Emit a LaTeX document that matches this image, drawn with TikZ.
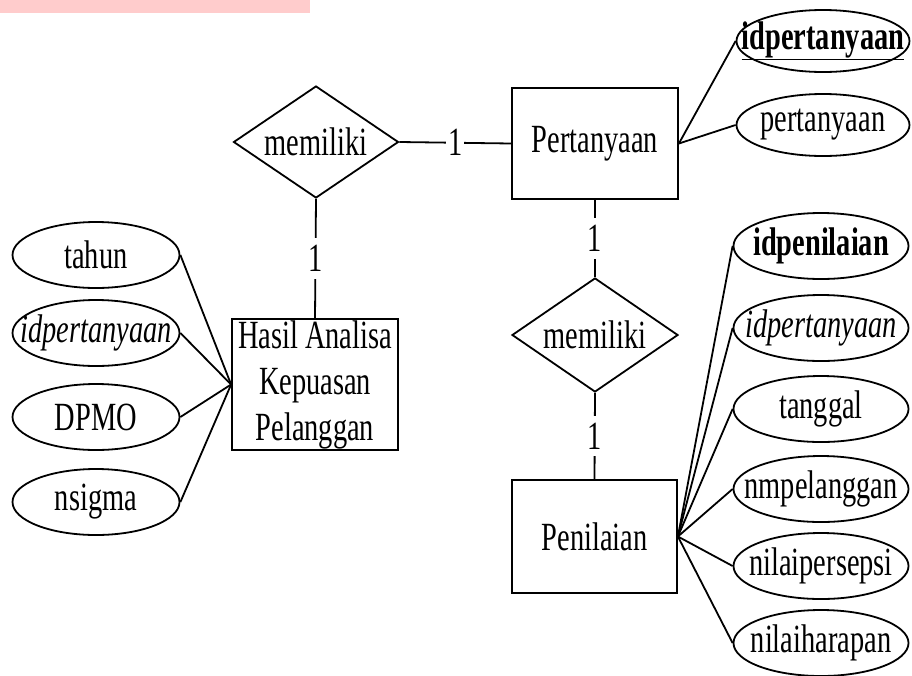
\documentclass[tikz,border=0pt]{standalone}
\usepackage{fontspec}
\setmainfont[FakeStretch=0.71]{Liberation Serif}
\usetikzlibrary{shapes.geometric}
\definecolor{pinkband}{RGB}{255,204,204}
\tikzset{
  ln/.style={line width=1.8pt},
  entity/.style={draw, ln, rectangle, inner sep=0pt, align=center, font=\fontsize{40}{46}\selectfont},
  rel/.style={draw, ln, diamond, inner sep=0pt, aspect=1, font=\fontsize{40}{46}\selectfont},
  attr/.style={draw, ln, ellipse, inner sep=0pt, font=\fontsize{40}{44}\selectfont},
  card/.style={fill=white, inner xsep=2pt, inner ysep=7pt, font=\fontsize{40}{44}\selectfont},
}
\begin{document}
\begin{tikzpicture}[x=1pt,y=-1pt]
\useasboundingbox (0,0) rectangle (912,675);
\fill[pinkband] (0,0) rectangle (310,13);

% entities
\node[entity, minimum width=166pt, minimum height=111pt] (pert) at (595,143.5) {Pertanyaan};
\node[entity, minimum width=166pt, minimum height=131pt] (hasil) at (315,384.5) {Hasil Analisa\\Kepuasan\\Pelanggan};
\node[entity, minimum width=165pt, minimum height=113pt] (pen) at (594.5,536.5) {Penilaian};

% relationships
\node[rel, minimum width=165pt, minimum height=112pt] (r1) at (316,142) {\makebox[0pt]{memiliki}};
\node[rel, minimum width=166pt, minimum height=114pt] (r2) at (595,335) {\makebox[0pt]{memiliki}};

% attributes of Pertanyaan
\node[attr, minimum width=173pt, minimum height=62pt] (a1) at (823,41) {\makebox[0pt]{\textbf{\underline{idpertanyaan}}}};
\node[attr, minimum width=173pt, minimum height=62pt] (a2) at (823,125) {\makebox[0pt]{pertanyaan}};

% attributes of Hasil
\node[attr, minimum width=167pt, minimum height=66pt] (h1) at (96,255) {\makebox[0pt]{tahun}};
\node[attr, minimum width=167pt, minimum height=66pt] (h2) at (96,333) {\makebox[0pt]{\textit{idpertanyaan}}};
\node[attr, minimum width=167pt, minimum height=66pt] (h3) at (96,417) {\makebox[0pt]{DPMO}};
\node[attr, minimum width=167pt, minimum height=66pt] (h4) at (96,502) {\makebox[0pt]{nsigma}};

% attributes of Penilaian
\node[attr, minimum width=175pt, minimum height=66pt] (p1) at (821,246) {\makebox[0pt]{\textbf{idpenilaian}}};
\node[attr, minimum width=175pt, minimum height=66pt] (p2) at (821,328) {\makebox[0pt]{\textit{idpertanyaan}}};
\node[attr, minimum width=175pt, minimum height=66pt] (p3) at (821,409) {\makebox[0pt]{tanggal}};
\node[attr, minimum width=175pt, minimum height=66pt] (p4) at (821,489) {\makebox[0pt]{nmpelanggan}};
\node[attr, minimum width=175pt, minimum height=66pt] (p5) at (821,566) {\makebox[0pt]{nilaipersepsi}};
\node[attr, minimum width=175pt, minimum height=66pt] (p6) at (821,643) {\makebox[0pt]{nilaiharapan}};

% relationship connectors
\draw[ln] (r1.east) -- node[card, inner ysep=2pt]{1} (pert.west);
\draw[ln] (r1.south) -- node[card]{1} (hasil.north);
\draw[ln] (pert.south) -- node[card]{1} (r2.north);
\draw[ln] (r2.south) -- node[card]{1} (pen.north);

% attribute connectors
\draw[ln] (pert.east) -- (a1.west);
\draw[ln] (pert.east) -- (a2.west);
\foreach \h in {h1,h2,h3,h4} \draw[ln] (\h.east) -- (hasil.west);
\foreach \p in {p1,p2,p3,p4,p5,p6} \draw[ln] (\p.west) -- (pen.east);
\end{tikzpicture}
\end{document}
